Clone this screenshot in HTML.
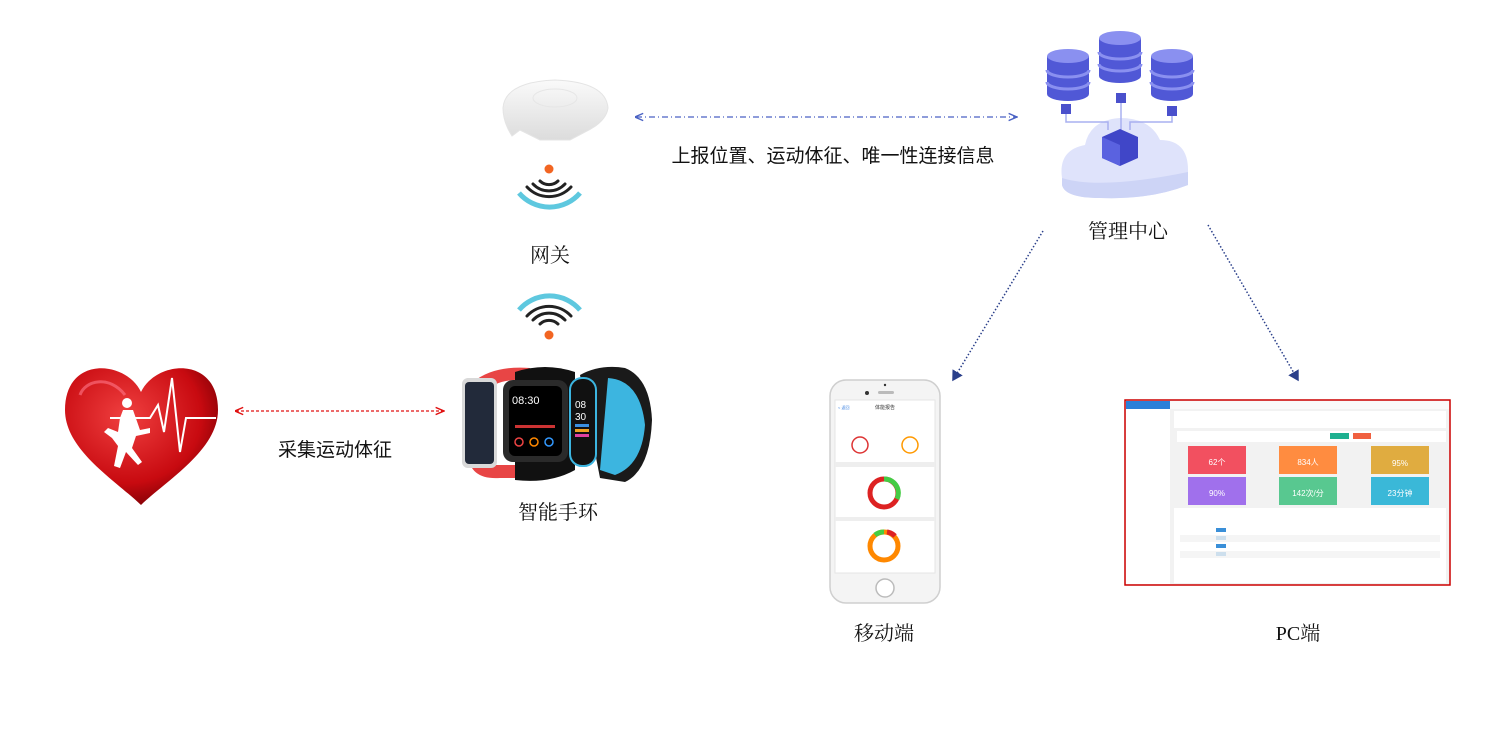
<!DOCTYPE html>
<html><head><meta charset="utf-8"><style>
html,body{margin:0;padding:0;background:#fff;}
svg{display:block;}
text{font-family:"Liberation Sans","Noto Sans CJK SC",sans-serif;}
.serif{font-family:"Liberation Serif","Noto Serif CJK SC",serif;}
</style></head><body>
<svg width="1494" height="750" viewBox="0 0 1494 750" xmlns="http://www.w3.org/2000/svg">
<defs>
<marker id="ab" markerWidth="8" markerHeight="8" refX="7" refY="4" orient="auto"><path d="M0,1 L7,4 L0,7" fill="none" stroke="#4a62c4" stroke-width="1.2"/></marker>
<marker id="abs" markerWidth="8" markerHeight="8" refX="1" refY="4" orient="auto"><path d="M7,1 L0,4 L7,7" fill="none" stroke="#4a62c4" stroke-width="1.2"/></marker>
<marker id="ar" markerWidth="8" markerHeight="8" refX="7" refY="4" orient="auto"><path d="M0,1 L7,4 L0,7" fill="none" stroke="#e01010" stroke-width="1.2"/></marker>
<marker id="ars" markerWidth="8" markerHeight="8" refX="1" refY="4" orient="auto"><path d="M7,1 L0,4 L7,7" fill="none" stroke="#e01010" stroke-width="1.2"/></marker>
<marker id="ad" markerWidth="9" markerHeight="9" refX="6" refY="4.5" orient="auto"><path d="M0,0.5 L7,4.5 L0,8.5 Z" fill="#2a3f8a"/></marker>
<radialGradient id="hg" cx="0.4" cy="0.35" r="0.7"><stop offset="0" stop-color="#f04040"/><stop offset="0.7" stop-color="#c80a10"/><stop offset="1" stop-color="#7a0005"/></radialGradient>
<linearGradient id="dome" x1="0" y1="0" x2="0" y2="1"><stop offset="0" stop-color="#fafafa"/><stop offset="1" stop-color="#dcdcdc"/></linearGradient>
</defs>

<!-- gateway -->
<path d="M503,108 Q505,82 555,80 Q606,82 608,108 Q606,122 585,132 L570,140 L540,140 L520,130 L512,136 Q503,122 503,108Z" fill="url(#dome)" stroke="#e4e4e4"/>
<ellipse cx="555" cy="98" rx="22" ry="9" fill="none" stroke="#e6e6e6"/>

<!-- wifi 1 -->
<circle cx="549" cy="169" r="4.5" fill="#f26522"/>
<g fill="none" stroke="#222" stroke-width="3" stroke-linecap="round">
<path d="M540,181 A13,13 0 0 0 558,181"/>
<path d="M533,184 A22,22 0 0 0 565,184"/>
<path d="M527,187 A30,30 0 0 0 571,187"/>
</g>
<path d="M519,193 A40,40 0 0 0 580,193" fill="none" stroke="#5ec8df" stroke-width="5"/>
<text x="550" y="262" font-size="20" text-anchor="middle" class="serif" fill="#111">网关</text>

<!-- wifi 2 -->
<path d="M519,310 A40,40 0 0 1 580,310" fill="none" stroke="#5ec8df" stroke-width="5"/>
<g fill="none" stroke="#222" stroke-width="3" stroke-linecap="round">
<path d="M527,316 A30,30 0 0 1 571,316"/>
<path d="M533,320 A22,22 0 0 1 565,320"/>
<path d="M540,324 A13,13 0 0 1 558,324"/>
</g>
<circle cx="549" cy="335" r="4.5" fill="#f26522"/>

<!-- watches -->
<path d="M470,385 Q490,365 530,368 L525,380 Q495,378 482,395 Z" fill="#e84545"/>
<path d="M468,455 Q470,480 500,478 L540,478 L535,465 L490,465 Z" fill="#e84545"/>
<rect x="462" y="378" width="35" height="90" rx="6" fill="#d9d9d9"/>
<rect x="465" y="382" width="29" height="82" rx="4" fill="#222a3a"/>
<path d="M580,375 Q600,364 625,368 Q650,378 652,420 Q650,470 625,482 L600,478 Z" fill="#1a1a1a"/>
<path d="M608,378 Q640,380 645,425 Q642,465 615,475 L600,470 Z" fill="#3cb5e0"/>
<path d="M515,372 Q545,362 575,372 L575,470 Q550,484 515,480 Z" fill="#111"/>
<rect x="503" y="380" width="65" height="82" rx="10" fill="#2a2a2a"/>
<rect x="509" y="386" width="53" height="70" rx="6" fill="#000"/>
<text x="512" y="404" font-size="11" fill="#fff">08:30</text>
<rect x="515" y="425" width="40" height="3" fill="#c33"/>
<circle cx="519" cy="442" r="4" fill="none" stroke="#e44" stroke-width="1.5"/>
<circle cx="534" cy="442" r="4" fill="none" stroke="#f80" stroke-width="1.5"/>
<circle cx="549" cy="442" r="4" fill="none" stroke="#39f" stroke-width="1.5"/>
<rect x="570" y="378" width="26" height="88" rx="12" fill="#111" stroke="#3cb5e0" stroke-width="2"/>
<text x="575" y="408" font-size="10" fill="#fff">08</text>
<text x="575" y="420" font-size="10" fill="#fff">30</text>
<rect x="575" y="424" width="14" height="3" fill="#3a8fe0"/>
<rect x="575" y="429" width="14" height="3" fill="#f0a020"/>
<rect x="575" y="434" width="14" height="3" fill="#e040a0"/>
<text x="558" y="519" font-size="20" text-anchor="middle" class="serif" fill="#111">智能手环</text>

<!-- heart -->
<path d="M141,392 C126,360 65,355 65,410 C65,450 115,480 141,505 C167,480 218,450 218,410 C218,355 156,360 141,392Z" fill="url(#hg)"/>
<path d="M80,395 C85,380 110,375 125,395" fill="none" stroke="#f78" stroke-width="3" opacity="0.6"/>
<polyline points="110,418 150,418 158,405 164,432 172,378 180,452 186,418 216,418" fill="none" stroke="#fff" stroke-width="2"/>
<g fill="#fff">
<circle cx="127" cy="403" r="5"/>
<path d="M123,410 L133,410 L140,430 L150,428 L150,433 L136,436 L132,448 L142,462 L138,465 L126,452 L120,468 L114,466 L118,446 L112,438 L104,432 L108,428 L118,432 L120,418Z"/>
</g>

<!-- red arrow -->
<line x1="236" y1="411" x2="444" y2="411" stroke="#e01010" stroke-width="1.2" stroke-dasharray="3,2" marker-end="url(#ar)" marker-start="url(#ars)"/>
<text x="335" y="456" font-size="19" text-anchor="middle" fill="#111">采集运动体征</text>

<!-- blue dash-dot arrow -->
<line x1="636" y1="117" x2="1017" y2="117" stroke="#4a62c4" stroke-width="1.2" stroke-dasharray="6,3,1,3" marker-end="url(#ab)" marker-start="url(#abs)"/>
<text x="833" y="162" font-size="19" text-anchor="middle" fill="#111">上报位置、运动体征、唯一性连接信息</text>

<!-- cloud -->
<path d="M1062,178 Q1058,150 1085,145 Q1090,120 1120,118 Q1150,118 1160,140 Q1188,140 1188,170 L1188,185 Q1150,200 1100,198 Q1065,198 1062,185Z" fill="#dfe3fb"/>
<path d="M1062,178 Q1100,190 1188,172 L1188,185 Q1150,200 1100,198 Q1065,198 1062,185Z" fill="#cdd4f6"/>
<g fill="none" stroke="#a8b0f0" stroke-width="1.5">
<polyline points="1066,110 1066,122 1108,122 1108,130"/>
<polyline points="1172,110 1172,122 1130,122 1130,130"/>
<line x1="1121" y1="98" x2="1121" y2="130"/>
</g>
<g>
<path d="M1047,56 v38 a21,7 0 0 0 42,0 v-38Z" fill="#5058d6"/>
<ellipse cx="1068" cy="56" rx="21" ry="7" fill="#8a90f0"/>
<path d="M1047,70 a21,7 0 0 0 42,0" fill="none" stroke="#8a90f0" stroke-width="3"/>
<path d="M1047,82 a21,7 0 0 0 42,0" fill="none" stroke="#8a90f0" stroke-width="3"/>
<path d="M1099,38 v38 a21,7 0 0 0 42,0 v-38Z" fill="#5058d6"/>
<ellipse cx="1120" cy="38" rx="21" ry="7" fill="#8a90f0"/>
<path d="M1099,52 a21,7 0 0 0 42,0" fill="none" stroke="#8a90f0" stroke-width="3"/>
<path d="M1099,64 a21,7 0 0 0 42,0" fill="none" stroke="#8a90f0" stroke-width="3"/>
<path d="M1151,56 v38 a21,7 0 0 0 42,0 v-38Z" fill="#5058d6"/>
<ellipse cx="1172" cy="56" rx="21" ry="7" fill="#8a90f0"/>
<path d="M1151,70 a21,7 0 0 0 42,0" fill="none" stroke="#8a90f0" stroke-width="3"/>
<path d="M1151,82 a21,7 0 0 0 42,0" fill="none" stroke="#8a90f0" stroke-width="3"/>
</g>
<rect x="1061" y="104" width="10" height="10" fill="#4a50cc"/>
<rect x="1116" y="93" width="10" height="10" fill="#4a50cc"/>
<rect x="1167" y="106" width="10" height="10" fill="#4a50cc"/>
<path d="M1102,137 L1120,129 L1138,137 L1138,158 L1120,166 L1102,158Z" fill="#4046c8"/>
<path d="M1102,137 L1120,145 L1120,166 L1102,158Z" fill="#5a62e0"/>
<text x="1128" y="238" font-size="20" text-anchor="middle" class="serif" fill="#111">管理中心</text>

<!-- dotted arrows -->
<line x1="1043" y1="231" x2="953" y2="380" stroke="#2a3f8a" stroke-width="1.5" stroke-dasharray="1.5,2" marker-end="url(#ad)"/>
<line x1="1208" y1="225" x2="1298" y2="380" stroke="#2a3f8a" stroke-width="1.5" stroke-dasharray="1.5,2" marker-end="url(#ad)"/>

<!-- phone -->
<rect x="830" y="380" width="110" height="223" rx="16" fill="#f4f4f4" stroke="#cfcfcf" stroke-width="1.5"/>
<circle cx="867" cy="393" r="2" fill="#333"/>
<rect x="878" y="391" width="16" height="3" rx="1.5" fill="#bbb"/>
<circle cx="885" cy="385" r="1.2" fill="#333"/>
<rect x="835" y="400" width="100" height="173" fill="#fff" stroke="#e5e5e5"/>
<text x="885" y="409" font-size="5" text-anchor="middle" fill="#333">体能报告</text>
<text x="838" y="409" font-size="4" fill="#3a80e0">&lt; 返回</text>
<rect x="835" y="462" width="100" height="5" fill="#eee"/>
<circle cx="860" cy="445" r="8" fill="none" stroke="#d33" stroke-width="1.5"/>
<circle cx="910" cy="445" r="8" fill="none" stroke="#f90" stroke-width="1.5"/>
<circle cx="884" cy="493" r="14" fill="none" stroke="#d22" stroke-width="5"/>
<path d="M884,479 A14,14 0 0 1 897,499" fill="none" stroke="#4c4" stroke-width="5"/>
<rect x="835" y="517" width="100" height="4" fill="#eee"/>
<circle cx="884" cy="546" r="14" fill="none" stroke="#f80" stroke-width="5"/>
<path d="M875,535 A14,14 0 0 1 884,532" fill="none" stroke="#4c4" stroke-width="5"/>
<path d="M887,532 A14,14 0 0 1 895,536" fill="none" stroke="#d22" stroke-width="5"/>
<circle cx="885" cy="588" r="9" fill="#fff" stroke="#bbb" stroke-width="1.5"/>
<text x="884" y="640" font-size="20" text-anchor="middle" class="serif" fill="#111">移动端</text>

<!-- PC -->
<rect x="1125" y="400" width="325" height="185" fill="#f2f2f2" stroke="#c00" stroke-width="1.5"/>
<rect x="1126" y="401" width="44" height="183" fill="#fff"/>
<rect x="1126" y="401" width="44" height="8" fill="#2a7fd8"/>
<rect x="1170" y="401" width="279" height="8" fill="#fafafa"/>
<rect x="1174" y="411" width="272" height="17" fill="#fff"/>
<rect x="1177" y="431" width="269" height="11" fill="#fff"/>
<rect x="1330" y="433" width="19" height="6" fill="#1eb090"/>
<rect x="1353" y="433" width="18" height="6" fill="#f06040"/>
<rect x="1188" y="446" width="58" height="28" fill="#f25060"/>
<rect x="1279" y="446" width="58" height="28" fill="#ff8c40"/>
<rect x="1371" y="446" width="58" height="28" fill="#e0ac40"/>
<rect x="1188" y="477" width="58" height="28" fill="#a070ec"/>
<rect x="1279" y="477" width="58" height="28" fill="#58c890"/>
<rect x="1371" y="477" width="58" height="28" fill="#3ab8d8"/>
<g font-size="8" fill="#fff" text-anchor="middle">
<text x="1217" y="465">62个</text><text x="1308" y="465">834人</text><text x="1400" y="466">95%</text>
<text x="1217" y="496">90%</text><text x="1308" y="496">142次/分</text><text x="1400" y="496">23分钟</text>
</g>
<rect x="1174" y="508" width="272" height="75" fill="#fff"/>
<g fill="#3a8fd8"><rect x="1216" y="528" width="10" height="4"/><rect x="1216" y="536" width="10" height="4"/><rect x="1216" y="544" width="10" height="4"/><rect x="1216" y="552" width="10" height="4"/></g>
<rect x="1180" y="535" width="260" height="7" fill="#f2f2f2" opacity="0.8"/>
<rect x="1180" y="551" width="260" height="7" fill="#f2f2f2" opacity="0.8"/>
<text x="1298" y="640" font-size="20" text-anchor="middle" class="serif" fill="#111">PC端</text>
</svg>
</body></html>
